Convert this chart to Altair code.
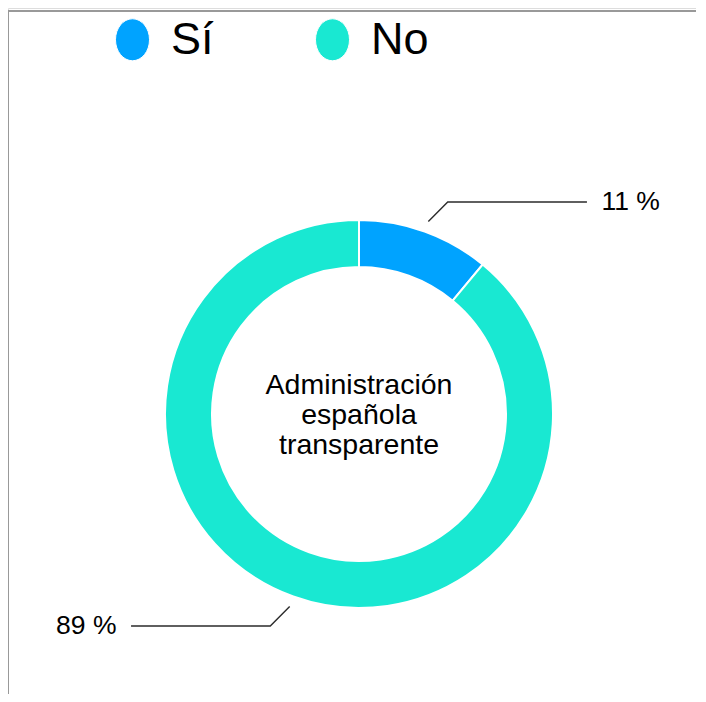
import altair as alt
import pandas as pd
import numpy as np

# ---- data ----
categories = ["Sí", "No"]
values = [11, 89]
colors = ["#00A3FF", "#19E8D2"]
pct_labels = ["11 %", "89 %"]
center_lines = ["Administración", "española", "transparente"]

# ---- layout (pixels) ----
W, H = 688, 686
R_OUT, R_IN = 194, 147
CX, CY = 351, 406
FONT = "Liberation Sans"
ELLIPSE = "M0,-1A0.81,1 0 1,1 0,1A0.81,1 0 1,1 0,-1Z"

# unit scales: 1 unit = outer radius, centred on the donut
xscale = alt.Scale(domain=[-CX / R_OUT, (W - CX) / R_OUT], range=[0, W], nice=False, zero=False)
yscale = alt.Scale(domain=[-(H - CY) / R_OUT, CY / R_OUT], range=[H, 0], nice=False, zero=False)

df = pd.DataFrame({"cat": categories, "value": values, "order": list(range(len(values)))})

arc = alt.Chart(df).mark_arc(
    innerRadius=R_IN, outerRadius=R_OUT, stroke="white", strokeWidth=2
).encode(
    theta=alt.Theta("value:Q", stack=True),
    order=alt.Order("order:Q"),
    color=alt.Color(
        "cat:N",
        scale=alt.Scale(domain=categories, range=colors),
        legend=alt.Legend(
            title=None, orient="none", legendX=102, legendY=9, direction="horizontal",
            symbolType=ELLIPSE, symbolSize=1764, symbolStrokeWidth=1, symbolStrokeColor="white",
            symbolOpacity=1,
            labelFontSize=45, labelFont=FONT, labelColor="black", labelOffset=16,
            columnPadding=96, padding=0,
        ),
    ),
    x=alt.value(CX),
    y=alt.value(CY),
)

# leader lines derived from the slice mid-angles
total = sum(values)
cum = np.cumsum(values)
rows, lab_rows = [], []
for i, (v, c, lab) in enumerate(zip(values, cum, pct_labels)):
    a = 2 * np.pi * (c - v / 2) / total
    s, co = np.sin(a), np.cos(a)
    sx, sy = np.sign(s), np.sign(co)
    x0, y0 = 1.055 * s, 1.055 * co
    x1, y1 = x0 + 0.1 * sx, y0 + 0.1 * sy
    x2 = 1.175 * sx
    for k, (px, py) in enumerate([(x0, y0), (x1, y1), (x2, y1)]):
        rows.append({"id": i, "k": k, "x": px, "y": py})
    lab_rows.append({"x": 1.25 * sx, "y": y1, "label": lab, "side": "left" if sx > 0 else "right"})
lines_df = pd.DataFrame(rows)
labs_df = pd.DataFrame(lab_rows)

leaders = alt.Chart(lines_df).mark_line(color="#2b2b2b", strokeWidth=1.4).encode(
    x=alt.X("x:Q", scale=xscale, axis=None),
    y=alt.Y("y:Q", scale=yscale, axis=None),
    detail="id:N",
    order="k:Q",
)

lab_left = alt.Chart(labs_df[labs_df.side == "left"]).mark_text(
    align="left", baseline="middle", fontSize=26.5, font=FONT, color="black"
).encode(x=alt.X("x:Q", scale=xscale, axis=None), y=alt.Y("y:Q", scale=yscale, axis=None), text="label:N")
lab_right = alt.Chart(labs_df[labs_df.side == "right"]).mark_text(
    align="right", baseline="middle", fontSize=26.5, font=FONT, color="black"
).encode(x=alt.X("x:Q", scale=xscale, axis=None), y=alt.Y("y:Q", scale=yscale, axis=None), text="label:N")

center_df = pd.DataFrame({"x": [0.0], "y": [0.0], "t": ["\n".join(center_lines)]})
center = alt.Chart(center_df).mark_text(
    align="center", baseline="middle", fontSize=28.5, font=FONT, color="black",
    lineBreak="\n", lineHeight=30, dy=-29,
).encode(x=alt.X("x:Q", scale=xscale, axis=None), y=alt.Y("y:Q", scale=yscale, axis=None), text="t:N")

frame_top = alt.Chart(df).mark_rule(color="#999999", strokeWidth=2).encode(
    x=alt.value(0), x2=alt.value(W), y=alt.value(3)
)
frame_left = alt.Chart(df).mark_rule(color="#999999", strokeWidth=2).encode(
    x=alt.value(0), y=alt.value(3), y2=alt.value(H)
)

chart = alt.layer(frame_top, frame_left, arc, leaders, lab_left, lab_right, center).properties(
    width=W, height=H, autosize=alt.AutoSizeParams(type="none"), padding=0
).configure_view(strokeWidth=0).configure(background="white")

chart.save("out.html", embed_options={"renderer": "svg", "actions": False})
